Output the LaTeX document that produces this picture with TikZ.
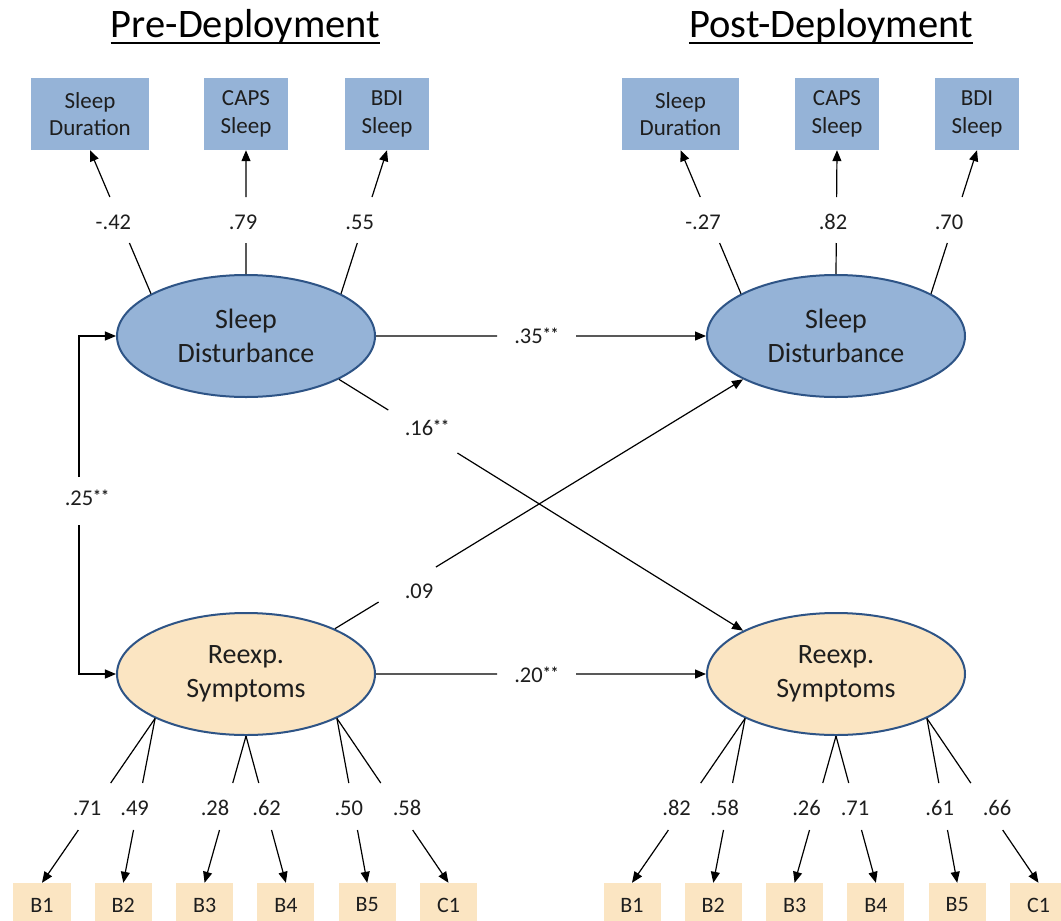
\documentclass[tikz,border=0pt]{standalone}
\usepackage{fontspec}
\setmainfont{Carlito}
\usetikzlibrary{shapes.geometric,arrows.meta,calc}
\definecolor{blueone}{RGB}{149,179,215}
\definecolor{beige}{RGB}{251,229,194}
\definecolor{eline}{RGB}{46,84,134}
\definecolor{txt}{RGB}{30,30,30}
\newcommand\sig{\rlap{\raisebox{4bp}{\fontsize{16bp}{16bp}\selectfont\bfseries **}}}
\newcommand\mylinky[4]{%
  \draw[conn] (#1) -- (intersection cs: first line={(#1)--(#2)}, second line={(0,#3)--(1,#3)});
  \draw[conn,arr] (intersection cs: first line={(#1)--(#2)}, second line={(0,#4)--(1,#4)}) -- (#2);
}
\newcommand\mylinkx[4]{%
  \draw[conn] (#1) -- (intersection cs: first line={(#1)--(#2)}, second line={(#3,0)--(#3,1)});
  \draw[conn,arr] (intersection cs: first line={(#1)--(#2)}, second line={(#4,0)--(#4,1)}) -- (#2);
}
\tikzset{
  conn/.style={line width=1.2bp, draw=black},
  arr/.style={-{Triangle[length=11bp,width=9bp]}},
  titlenode/.style={inner sep=0, anchor=base, font=\fontsize{40.5bp}{48bp}\selectfont, text=black},
  uline/.style={line width=2.5bp, draw=black},
  topbox/.style={fill=blueone, minimum height=72bp, inner sep=0, align=center, text=txt,
    font=\fontsize{23bp}{27.6bp}\selectfont},
  latent/.style={ellipse, draw=eline, line width=2bp, minimum width=258bp, minimum height=122bp,
    inner sep=0, align=center, text=txt, font=\fontsize{28bp}{33.6bp}\selectfont},
  botbox/.style={fill=beige, minimum width=57bp, minimum height=44bp, inner sep=0, text=txt,
    font=\fontsize{22bp}{26bp}\selectfont},
  lab/.style={inner sep=0, anchor=base, text=txt, font=\fontsize{22.5bp}{27bp}\selectfont}
}
\begin{document}
\begin{tikzpicture}[x=1bp,y=-1bp]
\useasboundingbox[fill=white] (0,0) rectangle (1061,921);
% titles
\node[titlenode] (pretitle) at (245.5,37) {Pre-Deployment};
\node[titlenode] (posttitle) at (831,37) {Post-Deployment};
\draw[uline] ([yshift=-6bp]pretitle.base west) -- ([yshift=-6bp]pretitle.base east);
\draw[uline] ([yshift=-6bp]posttitle.base west) -- ([yshift=-6bp]posttitle.base east);
% top indicators
\node[topbox, minimum width=117.5bp] (presd) at (90,114) {Sleep\\Duration};
\node[topbox, minimum width=84.5bp] (precaps) at (246,114) {CAPS\\Sleep};
\node[topbox, minimum width=84.5bp] (prebdi) at (387,114) {BDI\\Sleep};
\node[topbox, minimum width=117.5bp] (postsd) at (680.5,114) {Sleep\\Duration};
\node[topbox, minimum width=84.5bp] (postcaps) at (837,114) {CAPS\\Sleep};
\node[topbox, minimum width=84.5bp] (postbdi) at (977,114) {BDI\\Sleep};
% latent variables
\node[latent, fill=blueone] (presleep) at (246,336) {Sleep\\Disturbance};
\node[latent, fill=beige] (prereexp) at (246,674) {Reexp.\\Symptoms};
\node[latent, fill=blueone] (postsleep) at (836,336) {Sleep\\Disturbance};
\node[latent, fill=beige] (postreexp) at (836,674) {Reexp.\\Symptoms};
% bottom indicators
\node[botbox] (preb1) at (42,905) {B1};
\node[botbox] (preb2) at (123.3,905) {B2};
\node[botbox] (preb3) at (204.6,905) {B3};
\node[botbox] (preb4) at (285.9,905) {B4};
\node[botbox] (preb5) at (367.2,905) {B5};
\node[botbox] (prec1) at (448.5,905) {C1};
\node[botbox] (postb1) at (632,905) {B1};
\node[botbox] (postb2) at (713.3,905) {B2};
\node[botbox] (postb3) at (794.6,905) {B3};
\node[botbox] (postb4) at (875.9,905) {B4};
\node[botbox] (postb5) at (957.2,905) {B5};
\node[botbox] (postc1) at (1038.5,905) {C1};
% top loadings
\mylinky{presleep.156}{presd.south}{243}{197}
\mylinky{presleep.north}{precaps.south}{243}{197}
\mylinky{presleep.24}{prebdi.south}{243}{197}
\mylinky{postsleep.156}{postsd.south}{243}{197}
\mylinky{postsleep.north}{postcaps.south}{243}{197}
\mylinky{postsleep.24}{postbdi.south}{243}{197}
\node[lab] (lpre1) at (113.4,229) {-.42};
\node[lab] (lpre2) at (243,229) {.79};
\node[lab] (lpre3) at (359.7,229) {.55};
\node[lab] (lpost1) at (703,229) {-.27};
\node[lab] (lpost2) at (833,229) {.82};
\node[lab] (lpost3) at (949,229) {.70};
% bottom loadings
\mylinky{prereexp.206.6}{preb1.north}{783}{830}
\mylinky{prereexp.206.6}{preb2.north}{783}{830}
\mylinky{prereexp.south}{preb3.north}{783}{830}
\mylinky{prereexp.south}{preb4.north}{783}{830}
\mylinky{prereexp.334.3}{preb5.north}{783}{830}
\mylinky{prereexp.334.3}{prec1.north}{783}{830}
\mylinky{postreexp.206.6}{postb1.north}{783}{830}
\mylinky{postreexp.206.6}{postb2.north}{783}{830}
\mylinky{postreexp.south}{postb3.north}{783}{830}
\mylinky{postreexp.south}{postb4.north}{783}{830}
\mylinky{postreexp.334.3}{postb5.north}{783}{830}
\mylinky{postreexp.334.3}{postc1.north}{783}{830}
\node[lab] (lb1) at (87,815) {.71};
\node[lab] (lb2) at (134.6,815) {.49};
\node[lab] (lb3) at (215,815) {.28};
\node[lab] (lb4) at (266.6,815) {.62};
\node[lab] (lb5) at (348.8,815) {.50};
\node[lab] (lb6) at (407,815) {.58};
\node[lab] (lpb1) at (676.6,815) {.82};
\node[lab] (lpb2) at (724.7,815) {.58};
\node[lab] (lpb3) at (806.5,815) {.26};
\node[lab] (lpb4) at (855,815) {.71};
\node[lab] (lpb5) at (939.7,815) {.61};
\node[lab] (lpb6) at (997,815) {.66};
% structural paths
\mylinkx{presleep.east}{postsleep.west}{497}{576}
\mylinkx{prereexp.east}{postreexp.west}{497}{576}
\mylinky{presleep.335}{postreexp.155}{410}{453}
\mylinky{prereexp.27}{postsleep.205}{602}{567}
\node[lab] (l35) at (528.5,343) {.35\sig};
\node[lab] (l20) at (528.5,682) {.20\sig};
\node[lab] (l16) at (419,435) {.16\sig};
\node[lab] (l09) at (419,598) {.09};
% covariance
\coordinate (c25a) at (79,477);
\coordinate (c25b) at (79,525);
\draw[conn,arr] (c25a) |- (presleep.west);
\draw[conn,arr] (c25b) |- (prereexp.west);
\node[lab] (l25) at (79,505) {.25\sig};
\end{tikzpicture}
\end{document}
